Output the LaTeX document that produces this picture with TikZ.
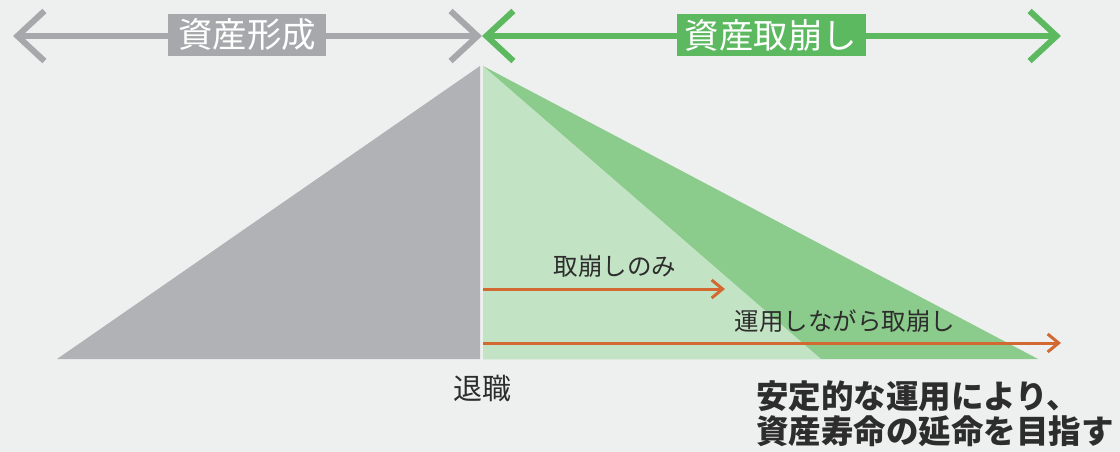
\documentclass[tikz,border=0pt]{standalone}
\usepackage{fontspec}
\setmainfont{Noto Sans CJK JP}
\usetikzlibrary{positioning,arrows.meta}

\definecolor{bggray}{RGB}{238,240,240}
\definecolor{phasegray}{RGB}{167,168,172}
\definecolor{trigray}{RGB}{177,178,182}
\definecolor{phasegreen}{RGB}{92,185,96}
\definecolor{darkgreen}{RGB}{139,203,139}
\definecolor{lightgreen}{RGB}{195,228,196}
\definecolor{arroworange}{RGB}{210,105,50}
\definecolor{textgray}{RGB}{45,45,45}

\begin{document}
\begin{tikzpicture}[x=1pt,y=-1pt,
    phasebox/.style={inner sep=0pt, minimum height=42pt, text=white, font=\fontsize{34.5}{34.5}\selectfont},
    phaseline/.style={line width=6pt, {Straight Barb[length=27pt,width=50pt]}-{Straight Barb[length=27pt,width=50pt]}},
    flowline/.style={draw=arroworange, line width=3pt, -{Straight Barb[length=11pt,width=18pt]}},
    flowlabel/.style={text=textgray, font=\fontsize{24.5}{24.5}\selectfont, inner sep=0pt},]
    % background
    \useasboundingbox (0,0) rectangle (1120,452);
    \fill[bggray] (0,0) rectangle (1120,452);
    % triangles
    \fill[trigray]    (57,359) -- (480,66) -- (480,359) -- cycle;
    \fill[darkgreen]  (483,66) -- (1038,359) -- (483,359) -- cycle;
    \fill[lightgreen] (483,66) -- (821,359) -- (483,359) -- cycle;
    % coordinates
    \coordinate (formL)  at (13,36);
    \coordinate (formR)  at (482,36);
    \coordinate (drawL)  at (482,36);
    \coordinate (drawR)  at (1061,36);
    \coordinate (onlyL)  at (483,289);
    \coordinate (onlyR)  at (725,289);
    \coordinate (investL) at (483,343);
    \coordinate (investR) at (1061,343);
    % lines
    \draw[phaseline, draw=phasegray]  (formL) -- (formR);
    \draw[phaseline, draw=phasegreen] (drawL) -- (drawR);
    \draw[flowline] (onlyL) -- (onlyR);
    \draw[flowline] (investL) -- (investR);
    % nodes
    \node[phasebox, fill=phasegray, minimum width=158pt]  (formation) at (247,35) {資産形成};
    \node[phasebox, fill=phasegreen, minimum width=189pt] (drawdown)  at (771,35) {資産取崩し};
    \node[flowlabel] (only)   at (615,266) {取崩しのみ};
    \node[flowlabel] (invest) at (845,321) {運用しながら取崩し};
    \node[flowlabel, font=\fontsize{29}{29}\selectfont] (retire) at (482,388) {退職};
    \node[text=textgray, anchor=west, align=left, inner sep=0pt,
          font=\fontsize{32.5}{35}\selectfont\bfseries] (goal) at (756,414)
          {安定的な運用により、\\資産寿命の延命を目指す};
\end{tikzpicture}
\end{document}
